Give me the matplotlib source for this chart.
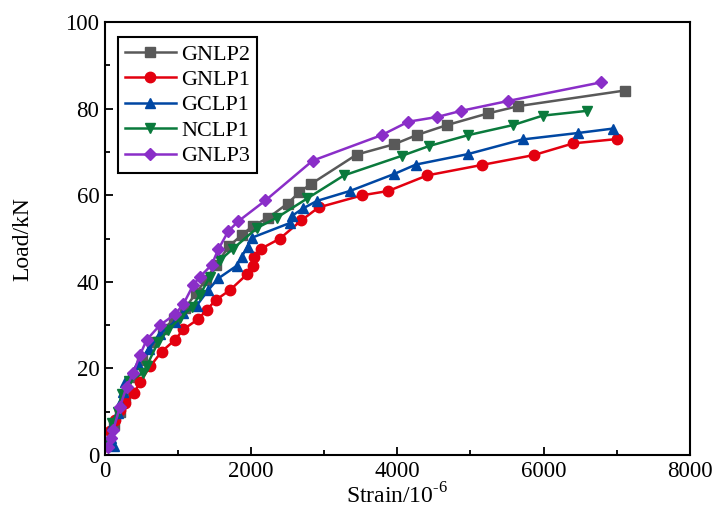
import matplotlib
matplotlib.use("Agg")
import matplotlib.pyplot as plt
from matplotlib.ticker import MultipleLocator

plt.rcParams['font.family'] = ['Liberation Serif', 'DejaVu Serif']
plt.rcParams['mathtext.fontset'] = 'custom'
plt.rcParams['mathtext.rm'] = 'Liberation Serif'

gnlp2_x = [60, 120, 200, 280, 380, 500, 650, 800, 950, 1100, 1250, 1380, 1520, 1700, 1870, 2029, 2234, 2499, 2658, 2818, 3443, 3958, 4263, 4674, 5235, 5654, 7110]
gnlp2_y = [3, 7, 10, 13.5, 18, 22, 26, 29, 31.5, 34, 37.5, 40.5, 44, 48.3, 50.8, 53, 54.8, 58.1, 60.7, 62.6, 69.4, 71.8, 73.9, 76.2, 78.9, 80.6, 84.2]

gnlp1_x = [30, 70, 140, 200, 280, 400, 480, 620, 776, 958, 1071, 1276, 1391, 1515, 1710, 1947, 2020, 2038, 2140, 2394, 2686, 2923, 3520, 3876, 4409, 5153, 5869, 6407, 7008]
gnlp1_y = [2, 5.5, 8, 10.5, 12, 14.3, 16.9, 20.5, 23.9, 26.6, 29, 31.4, 33.5, 35.8, 38.1, 41.8, 43.6, 45.7, 47.7, 50, 54.2, 57.2, 60, 61, 64.6, 67, 69.3, 72, 73]

gclp1_x = [120, 80, 100, 180, 205, 250, 274, 450, 600, 752, 958, 1071, 1254, 1413, 1550, 1801, 1870, 1950, 2010, 2530, 2554, 2713, 2900, 3352, 3953, 4254, 4961, 5714, 6475, 6944]
gclp1_y = [2, 4, 7, 9.6, 12, 14.6, 16.9, 21, 24.5, 28, 30.8, 32.7, 34.5, 38.1, 40.8, 43.7, 45.8, 48.1, 50.2, 53.6, 55.2, 57, 58.7, 61, 64.9, 67.1, 69.5, 72.9, 74.4, 75.4]

nclp1_x = [50, 92, 180, 228, 330, 524, 570, 729, 866, 1026, 1186, 1300, 1436, 1573, 1755, 2085, 2348, 2770, 3270, 4058, 4437, 4970, 5577, 5988, 6589]
nclp1_y = [3, 7.3, 10, 14.2, 17, 19, 20.5, 26.2, 28.9, 31.6, 34.2, 37, 41.2, 45, 47.7, 52.5, 54.8, 59.3, 64.6, 69.1, 71.4, 73.9, 76.2, 78.4, 79.5]

gnlp3_x = [45, 80, 114, 205, 297, 387, 479, 570, 752, 958, 1071, 1208, 1300, 1459, 1550, 1687, 1824, 2195, 2841, 3785, 4150, 4546, 4870, 5517, 6790]
gnlp3_y = [1.9, 4, 5.8, 11.2, 15.8, 18.9, 23.1, 26.6, 30, 32.5, 34.8, 39.3, 41.2, 43.9, 47.5, 51.7, 54, 58.8, 68, 73.9, 77, 78.1, 79.5, 81.8, 86.1]

series = [
    ("GNLP2", gnlp2_x, gnlp2_y, "#595959", "s"),
    ("GNLP1", gnlp1_x, gnlp1_y, "#e3000f", "o"),
    ("GCLP1", gclp1_x, gclp1_y, "#0047a3", "^"),
    ("NCLP1", nclp1_x, nclp1_y, "#0a7a3c", "v"),
    ("GNLP3", gnlp3_x, gnlp3_y, "#8a2ec8", "D"),
]

fig = plt.figure(figsize=(7.17, 5.15), dpi=100)
ax = fig.add_axes([0.1464, 0.1165, 0.8156, 0.8405])

for name, xs, ys, c, m in series:
    ms = 6 if m == "D" else 7.5
    ax.plot(xs, ys, color=c, marker=m, markersize=ms, linewidth=1.8, label=name)

ax.set_xlim(0, 8000)
ax.set_ylim(0, 100)
ax.xaxis.set_major_locator(MultipleLocator(2000))
ax.xaxis.set_minor_locator(MultipleLocator(1000))
ax.yaxis.set_major_locator(MultipleLocator(20))
ax.yaxis.set_minor_locator(MultipleLocator(10))
ax.tick_params(which='both', direction='in', top=False, right=False, labelsize=16.5)
ax.tick_params(which='major', length=6, width=1.3, pad=4)
ax.tick_params(which='minor', length=3.5, width=1.3)
for s in ax.spines.values():
    s.set_linewidth(1.5)

ax.set_xlabel("Strain/10$^{\\text{-6}}$", fontsize=17, labelpad=1)
ax.set_ylabel("Load/kN", fontsize=17, labelpad=23)

leg = ax.legend(loc='upper left', fontsize=16, frameon=True, fancybox=False,
                edgecolor='black', framealpha=1, handlelength=2.3,
                borderpad=0.3, labelspacing=0.22, handletextpad=0.25,
                borderaxespad=0.0, bbox_to_anchor=(0.022, 0.965))
leg.get_frame().set_linewidth(1.5)

fig.savefig("out.png", dpi=100)
